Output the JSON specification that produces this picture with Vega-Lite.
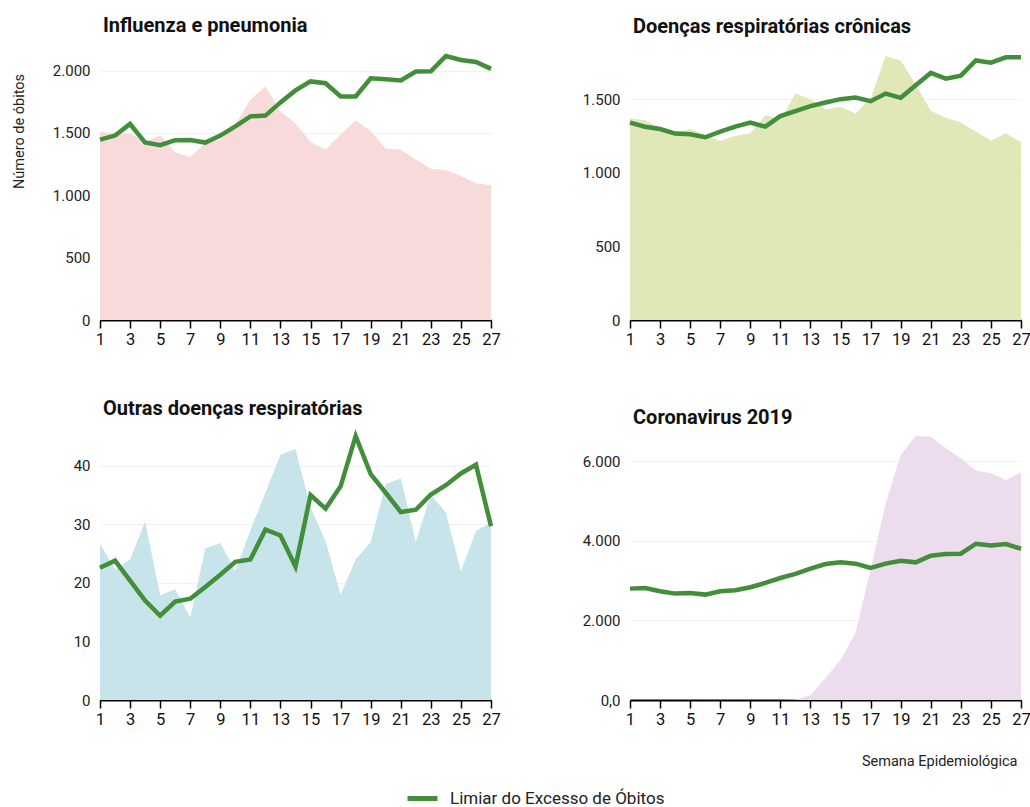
{
  "$schema": "https://vega.github.io/schema/vega-lite/v6.json",
  "autosize": {"type": "pad"},
  "padding": {"left": 11, "top": 16, "right": 0, "bottom": 0},
  "background": "white",
  "datasets": {
    "d": [
      {"causa": "Influenza e pneumonia", "semana": 1, "obitos": 1511, "limiar": 1447},
      {"causa": "Influenza e pneumonia", "semana": 2, "obitos": 1495, "limiar": 1479},
      {"causa": "Influenza e pneumonia", "semana": 3, "obitos": 1495, "limiar": 1572},
      {"causa": "Influenza e pneumonia", "semana": 4, "obitos": 1430, "limiar": 1423},
      {"causa": "Influenza e pneumonia", "semana": 5, "obitos": 1482, "limiar": 1402},
      {"causa": "Influenza e pneumonia", "semana": 6, "obitos": 1346, "limiar": 1442},
      {"causa": "Influenza e pneumonia", "semana": 7, "obitos": 1309, "limiar": 1444},
      {"causa": "Influenza e pneumonia", "semana": 8, "obitos": 1420, "limiar": 1423},
      {"causa": "Influenza e pneumonia", "semana": 9, "obitos": 1445, "limiar": 1479},
      {"causa": "Influenza e pneumonia", "semana": 10, "obitos": 1567, "limiar": 1553},
      {"causa": "Influenza e pneumonia", "semana": 11, "obitos": 1766, "limiar": 1633},
      {"causa": "Influenza e pneumonia", "semana": 12, "obitos": 1873, "limiar": 1639},
      {"causa": "Influenza e pneumonia", "semana": 13, "obitos": 1673, "limiar": 1745},
      {"causa": "Influenza e pneumonia", "semana": 14, "obitos": 1575, "limiar": 1841},
      {"causa": "Influenza e pneumonia", "semana": 15, "obitos": 1428, "limiar": 1913},
      {"causa": "Influenza e pneumonia", "semana": 16, "obitos": 1367, "limiar": 1899},
      {"causa": "Influenza e pneumonia", "semana": 17, "obitos": 1487, "limiar": 1793},
      {"causa": "Influenza e pneumonia", "semana": 18, "obitos": 1601, "limiar": 1793},
      {"causa": "Influenza e pneumonia", "semana": 19, "obitos": 1514, "limiar": 1939},
      {"causa": "Influenza e pneumonia", "semana": 20, "obitos": 1375, "limiar": 1931},
      {"causa": "Influenza e pneumonia", "semana": 21, "obitos": 1367, "limiar": 1921},
      {"causa": "Influenza e pneumonia", "semana": 22, "obitos": 1287, "limiar": 1992},
      {"causa": "Influenza e pneumonia", "semana": 23, "obitos": 1213, "limiar": 1995},
      {"causa": "Influenza e pneumonia", "semana": 24, "obitos": 1202, "limiar": 2117},
      {"causa": "Influenza e pneumonia", "semana": 25, "obitos": 1154, "limiar": 2085},
      {"causa": "Influenza e pneumonia", "semana": 26, "obitos": 1096, "limiar": 2069},
      {"causa": "Influenza e pneumonia", "semana": 27, "obitos": 1080, "limiar": 2014},
      {"causa": "Doenças respiratórias crônicas", "semana": 1, "obitos": 1369, "limiar": 1340},
      {"causa": "Doenças respiratórias crônicas", "semana": 2, "obitos": 1358, "limiar": 1313},
      {"causa": "Doenças respiratórias crônicas", "semana": 3, "obitos": 1302, "limiar": 1297},
      {"causa": "Doenças respiratórias crônicas", "semana": 4, "obitos": 1275, "limiar": 1266},
      {"causa": "Doenças respiratórias crônicas", "semana": 5, "obitos": 1297, "limiar": 1261},
      {"causa": "Doenças respiratórias crônicas", "semana": 6, "obitos": 1257, "limiar": 1241},
      {"causa": "Doenças respiratórias crônicas", "semana": 7, "obitos": 1216, "limiar": 1279},
      {"causa": "Doenças respiratórias crônicas", "semana": 8, "obitos": 1252, "limiar": 1313},
      {"causa": "Doenças respiratórias crônicas", "semana": 9, "obitos": 1268, "limiar": 1340},
      {"causa": "Doenças respiratórias crônicas", "semana": 10, "obitos": 1392, "limiar": 1313},
      {"causa": "Doenças respiratórias crônicas", "semana": 11, "obitos": 1358, "limiar": 1385},
      {"causa": "Doenças respiratórias crônicas", "semana": 12, "obitos": 1538, "limiar": 1419},
      {"causa": "Doenças respiratórias crônicas", "semana": 13, "obitos": 1500, "limiar": 1453},
      {"causa": "Doenças respiratórias crônicas", "semana": 14, "obitos": 1432, "limiar": 1477},
      {"causa": "Doenças respiratórias crônicas", "semana": 15, "obitos": 1448, "limiar": 1500},
      {"causa": "Doenças respiratórias crônicas", "semana": 16, "obitos": 1403, "limiar": 1511},
      {"causa": "Doenças respiratórias crônicas", "semana": 17, "obitos": 1504, "limiar": 1486},
      {"causa": "Doenças respiratórias crônicas", "semana": 18, "obitos": 1793, "limiar": 1538},
      {"causa": "Doenças respiratórias crônicas", "semana": 19, "obitos": 1763, "limiar": 1509},
      {"causa": "Doenças respiratórias crônicas", "semana": 20, "obitos": 1599, "limiar": 1594},
      {"causa": "Doenças respiratórias crônicas", "semana": 21, "obitos": 1421, "limiar": 1678},
      {"causa": "Doenças respiratórias crônicas", "semana": 22, "obitos": 1374, "limiar": 1639},
      {"causa": "Doenças respiratórias crônicas", "semana": 23, "obitos": 1342, "limiar": 1660},
      {"causa": "Doenças respiratórias crônicas", "semana": 24, "obitos": 1279, "limiar": 1763},
      {"causa": "Doenças respiratórias crônicas", "semana": 25, "obitos": 1218, "limiar": 1748},
      {"causa": "Doenças respiratórias crônicas", "semana": 26, "obitos": 1268, "limiar": 1784},
      {"causa": "Doenças respiratórias crônicas", "semana": 27, "obitos": 1207, "limiar": 1784},
      {"causa": "Outras doenças respiratórias", "semana": 1, "obitos": 26.7, "limiar": 22.6},
      {"causa": "Outras doenças respiratórias", "semana": 2, "obitos": 22.3, "limiar": 23.8},
      {"causa": "Outras doenças respiratórias", "semana": 3, "obitos": 24.0, "limiar": 20.4},
      {"causa": "Outras doenças respiratórias", "semana": 4, "obitos": 30.5, "limiar": 17.0},
      {"causa": "Outras doenças respiratórias", "semana": 5, "obitos": 17.9, "limiar": 14.4},
      {"causa": "Outras doenças respiratórias", "semana": 6, "obitos": 18.9, "limiar": 16.8},
      {"causa": "Outras doenças respiratórias", "semana": 7, "obitos": 14.1, "limiar": 17.3},
      {"causa": "Outras doenças respiratórias", "semana": 8, "obitos": 25.9, "limiar": 19.3},
      {"causa": "Outras doenças respiratórias", "semana": 9, "obitos": 26.8, "limiar": 21.4},
      {"causa": "Outras doenças respiratórias", "semana": 10, "obitos": 22.1, "limiar": 23.6},
      {"causa": "Outras doenças respiratórias", "semana": 11, "obitos": 29.0, "limiar": 24.0},
      {"causa": "Outras doenças respiratórias", "semana": 12, "obitos": 35.4, "limiar": 29.1},
      {"causa": "Outras doenças respiratórias", "semana": 13, "obitos": 41.9, "limiar": 28.1},
      {"causa": "Outras doenças respiratórias", "semana": 14, "obitos": 42.9, "limiar": 22.8},
      {"causa": "Outras doenças respiratórias", "semana": 15, "obitos": 32.9, "limiar": 35.0},
      {"causa": "Outras doenças respiratórias", "semana": 16, "obitos": 27.1, "limiar": 32.7},
      {"causa": "Outras doenças respiratórias", "semana": 17, "obitos": 18.0, "limiar": 36.5},
      {"causa": "Outras doenças respiratórias", "semana": 18, "obitos": 24.0, "limiar": 45.1},
      {"causa": "Outras doenças respiratórias", "semana": 19, "obitos": 27.0, "limiar": 38.6},
      {"causa": "Outras doenças respiratórias", "semana": 20, "obitos": 36.9, "limiar": 35.4},
      {"causa": "Outras doenças respiratórias", "semana": 21, "obitos": 37.9, "limiar": 32.1},
      {"causa": "Outras doenças respiratórias", "semana": 22, "obitos": 27.0, "limiar": 32.5},
      {"causa": "Outras doenças respiratórias", "semana": 23, "obitos": 35.1, "limiar": 35.1},
      {"causa": "Outras doenças respiratórias", "semana": 24, "obitos": 32.0, "limiar": 36.7},
      {"causa": "Outras doenças respiratórias", "semana": 25, "obitos": 22.0, "limiar": 38.7},
      {"causa": "Outras doenças respiratórias", "semana": 26, "obitos": 28.9, "limiar": 40.2},
      {"causa": "Outras doenças respiratórias", "semana": 27, "obitos": 30.3, "limiar": 29.7},
      {"causa": "Coronavirus 2019", "semana": 1, "obitos": 0, "limiar": 2797},
      {"causa": "Coronavirus 2019", "semana": 2, "obitos": 0, "limiar": 2814},
      {"causa": "Coronavirus 2019", "semana": 3, "obitos": 0, "limiar": 2730},
      {"causa": "Coronavirus 2019", "semana": 4, "obitos": 0, "limiar": 2672},
      {"causa": "Coronavirus 2019", "semana": 5, "obitos": 0, "limiar": 2689},
      {"causa": "Coronavirus 2019", "semana": 6, "obitos": 0, "limiar": 2647},
      {"causa": "Coronavirus 2019", "semana": 7, "obitos": 0, "limiar": 2730},
      {"causa": "Coronavirus 2019", "semana": 8, "obitos": 0, "limiar": 2756},
      {"causa": "Coronavirus 2019", "semana": 9, "obitos": 0, "limiar": 2831},
      {"causa": "Coronavirus 2019", "semana": 10, "obitos": 0, "limiar": 2939},
      {"causa": "Coronavirus 2019", "semana": 11, "obitos": 0, "limiar": 3064},
      {"causa": "Coronavirus 2019", "semana": 12, "obitos": 10, "limiar": 3165},
      {"causa": "Coronavirus 2019", "semana": 13, "obitos": 120, "limiar": 3298},
      {"causa": "Coronavirus 2019", "semana": 14, "obitos": 550, "limiar": 3415},
      {"causa": "Coronavirus 2019", "semana": 15, "obitos": 1002, "limiar": 3457},
      {"causa": "Coronavirus 2019", "semana": 16, "obitos": 1687, "limiar": 3424},
      {"causa": "Coronavirus 2019", "semana": 17, "obitos": 3273, "limiar": 3315},
      {"causa": "Coronavirus 2019", "semana": 18, "obitos": 4943, "limiar": 3424},
      {"causa": "Coronavirus 2019", "semana": 19, "obitos": 6154, "limiar": 3499},
      {"causa": "Coronavirus 2019", "semana": 20, "obitos": 6630, "limiar": 3457},
      {"causa": "Coronavirus 2019", "semana": 21, "obitos": 6613, "limiar": 3624},
      {"causa": "Coronavirus 2019", "semana": 22, "obitos": 6321, "limiar": 3666},
      {"causa": "Coronavirus 2019", "semana": 23, "obitos": 6070, "limiar": 3674},
      {"causa": "Coronavirus 2019", "semana": 24, "obitos": 5762, "limiar": 3925},
      {"causa": "Coronavirus 2019", "semana": 25, "obitos": 5695, "limiar": 3883},
      {"causa": "Coronavirus 2019", "semana": 26, "obitos": 5528, "limiar": 3916},
      {"causa": "Coronavirus 2019", "semana": 27, "obitos": 5711, "limiar": 3799}
    ]
  },
  "data": {"name": "d"},
  "columns": 2,
  "bounds": "flush",
  "spacing": {"row": 116, "column": 139},
  "concat": [
    {
      "title": {"text": "Influenza e pneumonia", "offset": 11},
      "width": 391, "height": 264,
      "transform": [{"filter": "datum.causa === 'Influenza e pneumonia'"}],
      "encoding": {
        "x": {"field": "semana", "type": "quantitative", "scale": {"domain": [1, 27], "nice": false, "zero": false},
              "axis": {"values": [1,3,5,7,9,11,13,15,17,19,21,23,25,27], "title": null}}
      },
      "layer": [
        {"mark": {"type": "area", "color": "#f9dada", "opacity": 1},
         "encoding": {"y": {"field": "obitos", "type": "quantitative", "title": "Número de óbitos", "scale": {"nice": false, "zero": true},
            "axis": {"values": [0, 500, 1000, 1500, 2000], "labelExpr": "replace(format(datum.value, ','), ',', '.')", "titleY": 75, "titlePadding": 26, "titleFontSize": 14.5}}}},
        {"mark": {"type": "line", "strokeWidth": 4.5, "strokeJoin": "miter"},
         "encoding": {"y": {"field": "limiar", "type": "quantitative", "title": "Número de óbitos"},
           "color": {"datum": "Limiar do Excesso de Óbitos", "type": "nominal"}}}
      ]
    },
    {
      "title": {"text": "Doenças respiratórias crônicas", "offset": 11},
      "width": 391, "height": 264,
      "transform": [{"filter": "datum.causa === 'Doenças respiratórias crônicas'"}],
      "encoding": {
        "x": {"field": "semana", "type": "quantitative", "scale": {"domain": [1, 27], "nice": false, "zero": false},
              "axis": {"values": [1,3,5,7,9,11,13,15,17,19,21,23,25,27], "title": null}}
      },
      "layer": [
        {"mark": {"type": "area", "color": "#e0e8b8", "opacity": 1},
         "encoding": {"y": {"field": "obitos", "type": "quantitative", "title": null, "scale": {"nice": false, "zero": true},
            "axis": {"values": [0, 500, 1000, 1500], "labelExpr": "replace(format(datum.value, ','), ',', '.')"}}}},
        {"mark": {"type": "line", "strokeWidth": 4.5, "strokeJoin": "miter"},
         "encoding": {"y": {"field": "limiar", "type": "quantitative", "title": null},
           "color": {"datum": "Limiar do Excesso de Óbitos", "type": "nominal"}}}
      ]
    },
    {
      "title": {"text": "Outras doenças respiratórias", "offset": 8},
      "width": 391, "height": 264,
      "transform": [{"filter": "datum.causa === 'Outras doenças respiratórias'"}],
      "encoding": {
        "x": {"field": "semana", "type": "quantitative", "scale": {"domain": [1, 27], "nice": false, "zero": false},
              "axis": {"values": [1,3,5,7,9,11,13,15,17,19,21,23,25,27], "title": null}}
      },
      "layer": [
        {"mark": {"type": "area", "color": "#c6e4ea", "opacity": 1},
         "encoding": {"y": {"field": "obitos", "type": "quantitative", "title": null, "scale": {"nice": false, "zero": true},
            "axis": {"values": [0, 10, 20, 30, 40]}}}},
        {"mark": {"type": "line", "strokeWidth": 4.5, "strokeJoin": "miter"},
         "encoding": {"y": {"field": "limiar", "type": "quantitative", "title": null},
           "color": {"datum": "Limiar do Excesso de Óbitos", "type": "nominal"}}}
      ]
    },
    {
      "title": {"text": "Coronavirus 2019", "offset": 8},
      "width": 391, "height": 264,
      "transform": [{"filter": "datum.causa === 'Coronavirus 2019'"}],
      "encoding": {
        "x": {"field": "semana", "type": "quantitative", "scale": {"domain": [1, 27], "nice": false, "zero": false},
              "axis": {"values": [1,3,5,7,9,11,13,15,17,19,21,23,25,27], "title": "Semana Epidemiológica", "titleAnchor": "end", "titleFontSize": 14.5, "titlePadding": 27, "titleX": 387}}
      },
      "layer": [
        {"mark": {"type": "area", "color": "#ecdcee", "opacity": 1},
         "encoding": {"y": {"field": "obitos", "type": "quantitative", "title": null, "scale": {"nice": false, "zero": true},
            "axis": {"values": [0, 2000, 4000, 6000], "labelExpr": "datum.value === 0 ? '0,0' : replace(format(datum.value, ','), ',', '.')"}}}},
        {"mark": {"type": "line", "strokeWidth": 4.5, "strokeJoin": "miter"},
         "encoding": {"y": {"field": "limiar", "type": "quantitative", "title": null},
           "color": {"datum": "Limiar do Excesso de Óbitos", "type": "nominal",
             "scale": {"range": ["#438e3a"]},
             "legend": {"orient": "none", "legendX": 305, "legendY": 725, "title": null, "symbolType": "stroke", "symbolStrokeWidth": 5, "symbolSize": 900, "labelFontSize": 17, "labelOffset": 10, "labelLimit": 400, "padding": 0, "labelColor": "#222"}}}}
      ]
    }
  ],
  "config": {
    "font": "Roboto",
    "view": {"stroke": null},
    "title": {"anchor": "start", "frame": "group", "fontSize": 20, "fontWeight": "bold", "color": "#111", "baseline": "alphabetic", "dx": 3, "font": "Roboto"},
    "axis": {"labelFont": "Roboto", "titleFont": "Roboto", "titleFontWeight": "normal", "titleColor": "#222", "labelColor": "#222"},
    "axisX": {"grid": false, "domain": true, "domainColor": "#000", "domainWidth": 2, "ticks": true, "tickColor": "#000", "tickWidth": 1.5, "tickSize": 8, "labelFontSize": 16.5, "labelPadding": 3, "labelFlush": false, "labelColor": "#111"},
    "axisY": {"grid": true, "gridColor": "#000", "gridOpacity": 0.05, "domain": false, "ticks": false, "tickSize": 0, "labelPadding": 10, "labelFontSize": 15, "titleFontSize": 14, "zindex": 1}
  }
}
